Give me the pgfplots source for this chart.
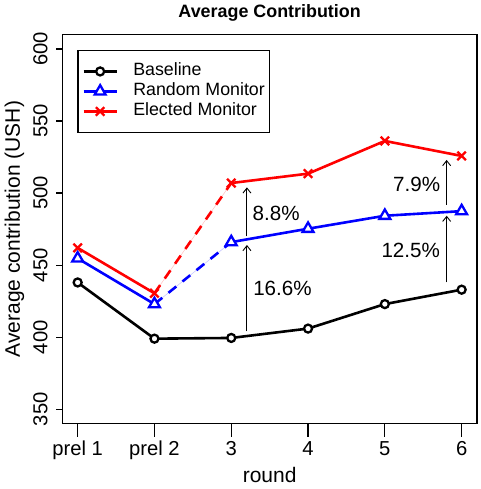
\documentclass[border=0pt]{standalone}
\usepackage{fontspec}
\setmainfont{Liberation Sans}
\usepackage{pgfplots}
\pgfplotsset{compat=1.18}
\usetikzlibrary{arrows.meta}
\definecolor{rblue}{RGB}{0,0,255}
\definecolor{rred}{RGB}{255,0,0}
\begin{document}
\begin{tikzpicture}[x=1pt,y=1pt]
\useasboundingbox (0,0) rectangle (480,489);
\begin{axis}[
  at={(62.3pt,65.3pt)}, anchor=south west,
  scale only axis, width=414.7pt, height=389.1pt,
  xmin=-0.2, xmax=5.2, ymin=340, ymax=610,
  axis line style={line width=1.5pt},
  tick style={line width=1.3pt, black},
  tick align=outside, major tick length=6pt, minor tick length=13pt,
  xtick pos=bottom, ytick pos=left,
  xtick={0,1,2,3,4,5},
  xticklabels={prel 1,prel 2,3,4,5,6},
  every major x tick/.append style={draw=none},
  minor xtick={0,1,2,3,4,5},
  ytick={350,400,450,500,550,600},
  /pgf/number format/assume math mode=true,
  tick label style={font=\fontsize{20.2}{24}\selectfont},
  xticklabel style={anchor=base, yshift=-26pt},
  yticklabel style={rotate=90, anchor=base, yshift=8.9pt},
  xlabel={round},
  xlabel style={at={(rel axis cs:0.5,0)}, anchor=base, yshift=-58.3pt, font=\fontsize{21}{24}\selectfont},
  ylabel={Average contribution (USH)},
  ylabel style={at={([xshift=-42.3pt]rel axis cs:0,0.5)}, anchor=base, font=\fontsize{21}{24}\selectfont},
  title={Average Contribution},
  title style={at={(rel axis cs:0.5,1)}, anchor=base, yshift=11.3pt, font=\bfseries\fontsize{17.9}{20}\selectfont},
  legend image code/.code={\draw[mark repeat=2,mark phase=2] plot coordinates {(0pt,0pt)(16.5pt,0pt)(33pt,0pt)};},
  legend cell align=left,
  legend style={at={(rel axis cs:0,1)}, anchor=north west, xshift=15pt, yshift=-15pt,
    draw=black, line width=1.3pt, fill=white, inner xsep=4.4pt, inner ysep=12.7pt,
    row sep=3pt, column sep=15.3pt,
    font=\fontsize{17.8}{20}\selectfont,
    nodes={inner sep=0pt, text height=13pt, text depth=4pt}},
]
% Baseline
\addplot[black, line width=2.6pt, forget plot] coordinates {(0,438)(1,399)(2,399.5)(3,406)(4,423)(5,433)};
% Random Monitor
\addplot[rblue!25, line width=0.5pt, forget plot] coordinates {(1,423)(2,466)};
\addplot[rblue, line width=2.6pt, forget plot] coordinates {(0,454.7)(1,423)};
\addplot[rblue, line width=2.6pt, dash pattern=on 10pt off 8pt, forget plot] coordinates {(1,423)(2,466)};
\addplot[rblue, line width=2.6pt, forget plot] coordinates {(2,466)(3,475.3)(4,484.3)(5,487.5)};
% Elected Monitor
\addplot[rred!25, line width=0.5pt, forget plot] coordinates {(1,430.5)(2,507)};
\addplot[rred, line width=2.6pt, forget plot] coordinates {(0,462)(1,430.5)};
\addplot[rred, line width=2.6pt, dash pattern=on 10pt off 8pt, forget plot] coordinates {(1,430.5)(2,507)};
\addplot[rred, line width=2.6pt, forget plot] coordinates {(2,507)(3,513.5)(4,536.2)(5,525.8)};
% markers
\addplot[only marks, mark=*, mark size=4pt, mark options={draw=black, fill=white, line width=2.3pt}, forget plot] coordinates {(0,438)(1,399)(2,399.5)(3,406)(4,423)(5,433)};
\addplot[only marks, mark=triangle*, mark size=6.3pt, mark options={draw=rblue, fill=white, line width=2.3pt}, forget plot] coordinates {(0,454.7)(1,423)(2,466)(3,475.3)(4,484.3)(5,487.5)};
\addplot[only marks, mark=x, mark size=6pt, mark options={draw=rred, line width=2.3pt}, forget plot] coordinates {(0,462)(1,430.5)(2,507)(3,513.5)(4,536.2)(5,525.8)};
% arrows
\addplot[black, line width=0.9pt, -{Straight Barb[length=5pt,width=8pt]}, forget plot] coordinates {(2.204,404)(2.204,464)};
\addplot[black, line width=0.9pt, -{Straight Barb[length=5pt,width=8pt]}, forget plot] coordinates {(2.204,470)(2.204,504)};
\addplot[black, line width=0.9pt, -{Straight Barb[length=5pt,width=8pt]}, forget plot] coordinates {(4.805,438)(4.805,484.3)};
\addplot[black, line width=0.9pt, -{Straight Barb[length=5pt,width=8pt]}, forget plot] coordinates {(4.805,491.8)(4.805,523)};
\node[font=\fontsize{20.6}{24}\selectfont] at (axis cs:2.585,485.7) {8.8\%};
\node[font=\fontsize{20.6}{24}\selectfont] at (axis cs:2.667,434) {16.6\%};
\node[font=\fontsize{20.6}{24}\selectfont] at (axis cs:4.414,506) {7.9\%};
\node[font=\fontsize{20.6}{24}\selectfont] at (axis cs:4.337,460) {12.5\%};
% legend
\addlegendimage{black, line width=2.6pt, mark=*, mark size=4pt, mark options={draw=black, fill=white, line width=2.3pt}}
\addlegendentry{Baseline}
\addlegendimage{rblue, line width=2.6pt, mark=triangle*, mark size=6.3pt, mark options={draw=rblue, fill=white, line width=2.3pt}}
\addlegendentry{Random Monitor\hspace{4.7pt}}
\addlegendimage{rred, line width=2.6pt, mark=x, mark size=6pt, mark options={draw=rred, line width=2.3pt}}
\addlegendentry{Elected Monitor}
\end{axis}
\end{tikzpicture}
\end{document}
